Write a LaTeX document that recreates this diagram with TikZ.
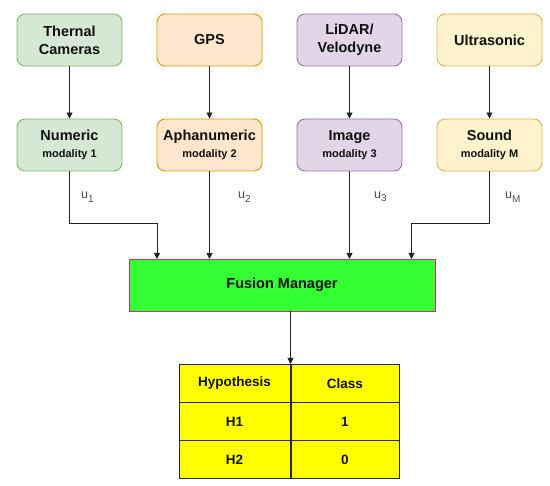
\documentclass[tikz,border=0pt]{standalone}
\usepackage{fontspec}
\setmainfont{Liberation Sans}
\usetikzlibrary{arrows.meta}
\definecolor{gfill}{HTML}{D5E8D4}\definecolor{gdraw}{HTML}{82B366}
\definecolor{ofill}{HTML}{FFE6CC}\definecolor{odraw}{HTML}{D79B00}
\definecolor{pfill}{HTML}{E1D5E7}\definecolor{pdraw}{HTML}{9673A6}
\definecolor{yfill}{HTML}{FFF2CC}\definecolor{ydraw}{HTML}{D6B656}
\definecolor{fusfill}{HTML}{33FF33}\definecolor{fusdraw}{HTML}{CC3366}
\definecolor{tabfill}{HTML}{FFFF00}
\definecolor{txt}{HTML}{111111}
\definecolor{lin}{HTML}{222222}
\tikzset{
  sensor/.style={draw, line width=0.9pt, rounded corners=8pt, minimum width=105pt, minimum height=52pt, inner sep=0pt, align=center, text=txt, font=\fontsize{14.5}{18}\selectfont\bfseries},
  modal/.style={sensor},
  conn/.style={draw=lin, line width=0.9pt, -{Triangle[length=6pt,width=6pt]}},
  ulab/.style={text=black!70, font=\fontsize{12.5}{14}\selectfont, inner sep=0pt},
  cell/.style={draw=black!85, line width=0.9pt, fill=tabfill, minimum width=111pt, minimum height=38pt, inner sep=0pt, text=txt, font=\fontsize{13.5}{16}\selectfont\bfseries},
}
\newcommand{\smalltxt}[1]{{\fontsize{11}{13}\selectfont\bfseries #1}}
\newcommand{\usub}[1]{u\raisebox{-3.5pt}{\fontsize{10}{12}\selectfont #1}}
\begin{document}
\begin{tikzpicture}[x=1pt,y=-1pt]
\useasboundingbox (0,0) rectangle (550,486);
% top row
\node[sensor, fill=gfill, draw=gdraw] (s1) at (69.5,40) {Thernal\\Cameras};
\node[sensor, fill=ofill, draw=odraw] (s2) at (209.5,40) {GPS};
\node[sensor, fill=pfill, draw=pdraw] (s3) at (349.5,40) {LiDAR/\\Velodyne};
\node[sensor, fill=yfill, draw=ydraw] (s4) at (489.5,40) {Ultrasonic};
% second row
\node[modal, fill=gfill, draw=gdraw] (m1) at (69.5,145) {Numeric\\[-1pt]\smalltxt{modality 1}};
\node[modal, fill=ofill, draw=odraw] (m2) at (209.5,145) {Aphanumeric\\[-1pt]\smalltxt{modality 2}};
\node[modal, fill=pfill, draw=pdraw] (m3) at (349.5,145) {Image\\[-1pt]\smalltxt{modality 3}};
\node[modal, fill=yfill, draw=ydraw] (m4) at (489.5,145) {Sound\\[-1pt]\smalltxt{modality \textbf{M}}};
\foreach \i in {1,2,3,4}{\draw[conn] (s\i) -- (m\i);}
% fusion
\node[draw=fusdraw, line width=0.8pt, fill=fusfill, minimum width=306pt, minimum height=52pt, inner sep=0pt, text=txt, font=\fontsize{14.5}{18}\selectfont\bfseries] (fus) at (282,285) {Fusion Manager};
\coordinate (c1) at (157,259);
\coordinate (c2) at (210,259);
\coordinate (c3) at (349.5,259);
\coordinate (c4) at (411.5,259);
\draw[conn] (m1.south) |- (157,223) -- (c1);
\draw[conn] (m2.south) -- (m2.south |- c2);
\draw[conn] (m3.south) -- (c3);
\draw[conn] (m4.south) |- (411.5,223) -- (c4);
\node[ulab, anchor=west] (u1) at (81,197) {\usub{1}};
\node[ulab, anchor=west] (u2) at (238,197) {\usub{2}};
\node[ulab, anchor=west] (u3) at (374,197) {\usub{3}};
\node[ulab, anchor=west] (u4) at (505,197) {\usub{M}};
% table
\node[cell, anchor=north east] (t11) at (290.5,364) {Hypothesis};
\node[cell, anchor=north west, minimum width=108pt] (t12) at (290.5,364) {Class};
\node[cell, anchor=north east] (t21) at (290.5,402) {H1};
\node[cell, anchor=north west, minimum width=108pt] (t22) at (290.5,402) {1};
\node[cell, anchor=north east] (t31) at (290.5,440) {H2};
\node[cell, anchor=north west, minimum width=108pt] (t32) at (290.5,440) {0};
\draw[conn] (fus.south -| t12.north west) -- (t12.north west);
\end{tikzpicture}
\end{document}
